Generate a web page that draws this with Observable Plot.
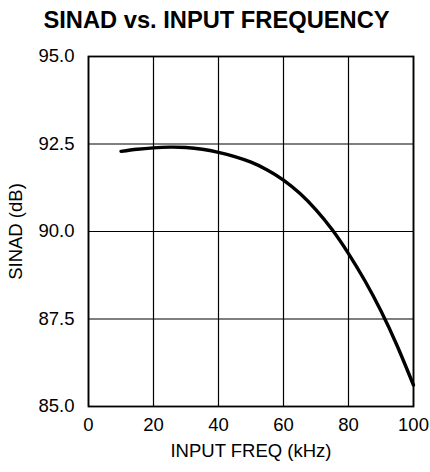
<!DOCTYPE html>
<html><head><meta charset="utf-8">
<script src="https://cdn.jsdelivr.net/npm/d3@7"></script>
<script src="https://cdn.jsdelivr.net/npm/@observablehq/plot@0.6"></script>
<style>
body{margin:0;background:#fff;font-family:"Liberation Sans",Arial,sans-serif;}
#title{height:40px;width:430px;text-align:center;font-weight:bold;font-size:23.7px;line-height:40px;padding-left:3px;box-sizing:border-box;color:#000;white-space:nowrap;}
</style></head><body>
<div id="title">SINAD vs. INPUT FREQUENCY</div>
<div id="chart"></div>
<script>
const freq  = [10, 15, 20, 25, 30, 35, 40, 45, 50, 55, 60, 65, 70, 75, 80, 85, 90, 95, 100];
const sinad = [92.29, 92.35, 92.39, 92.41, 92.40, 92.35, 92.26, 92.14, 91.98, 91.76, 91.47, 91.09, 90.62, 90.05, 89.37, 88.60, 87.73, 86.73, 85.61];
const xTicks = [0, 20, 40, 60, 80, 100];
const yTicks = [85, 87.5, 90, 92.5, 95];
const data = freq.map((f, i) => ({f, s: sinad[i]}));

const chart = Plot.plot({
  width: 430, height: 432,
  marginTop: 16, marginBottom: 66, marginLeft: 88, marginRight: 17,
  style: {fontFamily: '"Liberation Sans", Arial, sans-serif', fontSize: "18.5px", color: "#000", background: "#fff"},
  x: {domain: [0, 100], ticks: xTicks, tickSize: 0, tickPadding: 11, label: "INPUT FREQ (kHz)", labelAnchor: "center", labelArrow: "none", labelOffset: 50},
  y: {domain: [85, 95], ticks: yTicks, tickSize: 0, tickPadding: 14, tickFormat: d3.format(".1f"), label: "SINAD (dB)", labelAnchor: "center", labelArrow: "none", labelOffset: 80},
  marks: [
    Plot.gridX(xTicks, {stroke: "#000", strokeOpacity: 1, strokeWidth: 1.2}),
    Plot.gridY(yTicks, {stroke: "#000", strokeOpacity: 1, strokeWidth: 1.2}),
    Plot.frame({stroke: "#000", strokeWidth: 1.8}),
    Plot.line(data, {x: "f", y: "s", curve: "natural", stroke: "#000", strokeWidth: 3.4})
  ]
});
document.getElementById("chart").appendChild(chart);
</script>
</body></html>
